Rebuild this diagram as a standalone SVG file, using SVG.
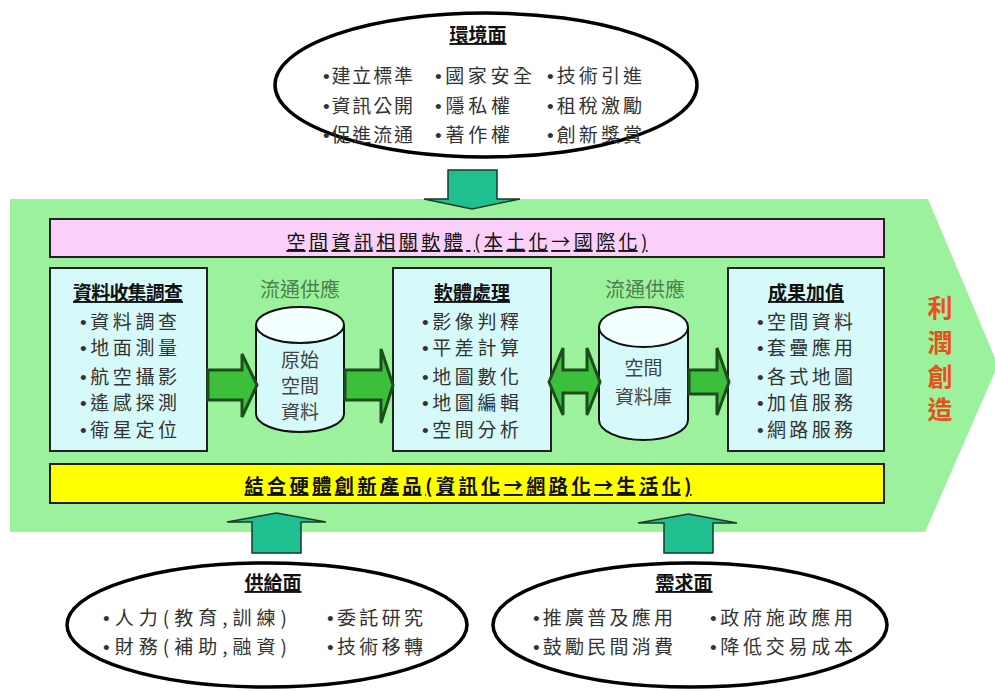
<svg xmlns="http://www.w3.org/2000/svg" width="995" height="691" viewBox="0 0 995 691">
<style>
text{font-family:"Noto Sans CJK TC","Noto Sans CJK SC",sans-serif;}
.b{font-family:"Liberation Sans",sans-serif;}
.it{font-size:19px;fill:#333;}
.tt{font-size:19px;font-weight:bold;fill:#111;text-decoration:underline;}
.lbl{font-size:20px;fill:#4f7f4f;text-anchor:middle;}
.cy{font-size:19px;fill:#444;text-anchor:middle;}
.box{fill:#d6fafa;stroke:#222;stroke-width:2;}
.ell{fill:#fff;stroke:#000;stroke-width:3.5;}
.garr{fill:#3cc03c;stroke:#1d4d1d;stroke-width:3;stroke-linejoin:miter;}
.tarr{fill:#1fbf8f;stroke:#1a3a2a;stroke-width:1.5;}
.red{font-size:25px;font-weight:bold;fill:#e8501e;text-anchor:middle;}
</style>
<rect width="995" height="691" fill="#fff"/>
<g id="main-arrow">
<polygon points="10,199 928,199 998,365 925,532 10,532" fill="#9cf29c"/>
<text class="red" x="940" y="317">利</text>
<text class="red" x="940" y="352">潤</text>
<text class="red" x="940" y="386">創</text>
<text class="red" x="940" y="419">造</text>
</g>
<g id="software-bar">
<rect x="50" y="219" width="834" height="38" fill="#fbd0f8" stroke="#222" stroke-width="2"/>
<text class="tt" x="467" y="249" text-anchor="middle" style="font-weight:normal" textLength="361" lengthAdjust="spacing">空間資訊相關軟體 (本土化→國際化)</text>
</g>
<g id="hardware-bar">
<rect x="50" y="464" width="834" height="39" fill="#ffff00" stroke="#222" stroke-width="2"/>
<text class="tt" x="468" y="493" text-anchor="middle" textLength="447" lengthAdjust="spacing">結合硬體創新產品(資訊化→網路化→生活化)</text>
</g>
<g id="box-collect">
<rect class="box" x="50" y="268" width="157" height="183"/>
<text class="tt" x="128" y="300" text-anchor="middle" textLength="110" lengthAdjust="spacing">資料收集調查</text>
<text class="it" x="80" y="329" textLength="97" lengthAdjust="spacing"><tspan class="b">•</tspan>資料調查</text>
<text class="it" x="80" y="355" textLength="97" lengthAdjust="spacing"><tspan class="b">•</tspan>地面測量</text>
<text class="it" x="80" y="384" textLength="97" lengthAdjust="spacing"><tspan class="b">•</tspan>航空攝影</text>
<text class="it" x="80" y="410" textLength="97" lengthAdjust="spacing"><tspan class="b">•</tspan>遙感探測</text>
<text class="it" x="80" y="437" textLength="97" lengthAdjust="spacing"><tspan class="b">•</tspan>衛星定位</text>
</g>
<g id="box-software">
<rect class="box" x="393" y="268" width="158" height="183"/>
<text class="tt" x="472" y="300" text-anchor="middle" textLength="76" lengthAdjust="spacing">軟體處理</text>
<text class="it" x="422" y="329" textLength="97" lengthAdjust="spacing"><tspan class="b">•</tspan>影像判釋</text>
<text class="it" x="422" y="355" textLength="97" lengthAdjust="spacing"><tspan class="b">•</tspan>平差計算</text>
<text class="it" x="422" y="384" textLength="97" lengthAdjust="spacing"><tspan class="b">•</tspan>地圖數化</text>
<text class="it" x="422" y="410" textLength="97" lengthAdjust="spacing"><tspan class="b">•</tspan>地圖編輯</text>
<text class="it" x="422" y="437" textLength="97" lengthAdjust="spacing"><tspan class="b">•</tspan>空間分析</text>
</g>
<g id="box-value">
<rect class="box" x="728" y="268" width="156" height="183"/>
<text class="tt" x="806" y="300" text-anchor="middle" textLength="76" lengthAdjust="spacing">成果加值</text>
<text class="it" x="757" y="329" textLength="96" lengthAdjust="spacing"><tspan class="b">•</tspan>空間資料</text>
<text class="it" x="757" y="355" textLength="96" lengthAdjust="spacing"><tspan class="b">•</tspan>套疊應用</text>
<text class="it" x="757" y="384" textLength="96" lengthAdjust="spacing"><tspan class="b">•</tspan>各式地圖</text>
<text class="it" x="757" y="410" textLength="96" lengthAdjust="spacing"><tspan class="b">•</tspan>加值服務</text>
<text class="it" x="757" y="437" textLength="96" lengthAdjust="spacing"><tspan class="b">•</tspan>網路服務</text>
</g>
<g id="cyl-raw">
<text class="lbl" x="300" y="297">流通供應</text>
<path d="M256,325 L256,414 A44,18 0 0 0 344,414 L344,325" fill="#d6fafa" stroke="#111" stroke-width="2"/>
<ellipse cx="300" cy="325" rx="44" ry="18" fill="#f4ffff" stroke="#111" stroke-width="2"/>
<text class="cy" x="300" y="367">原始</text>
<text class="cy" x="300" y="393">空間</text>
<text class="cy" x="300" y="419">資料</text>
</g>
<g id="cyl-db">
<text class="lbl" x="645" y="297">流通供應</text>
<path d="M599,327 L599,420 A44.5,20 0 0 0 688,420 L688,327" fill="#d6fafa" stroke="#111" stroke-width="2"/>
<ellipse cx="643.5" cy="327" rx="44.5" ry="20" fill="#f4ffff" stroke="#111" stroke-width="2"/>
<text class="cy" x="643.5" y="375">空間</text>
<text class="cy" x="643.5" y="404">資料庫</text>
</g>
<g id="env">
<ellipse class="ell" cx="486" cy="85" rx="211" ry="72"/>
<text class="tt" x="478" y="42" text-anchor="middle">環境面</text>
<text class="it" x="323" y="83" textLength="90" lengthAdjust="spacing"><tspan class="b">•</tspan>建立標準</text>
<text class="it" x="435" y="83" textLength="97" lengthAdjust="spacing"><tspan class="b">•</tspan>國家安全</text>
<text class="it" x="547" y="83" textLength="95" lengthAdjust="spacing"><tspan class="b">•</tspan>技術引進</text>
<text class="it" x="323" y="113" textLength="90" lengthAdjust="spacing"><tspan class="b">•</tspan>資訊公開</text>
<text class="it" x="435" y="113" textLength="75" lengthAdjust="spacing"><tspan class="b">•</tspan>隱私權</text>
<text class="it" x="547" y="113" textLength="95" lengthAdjust="spacing"><tspan class="b">•</tspan>租稅激勵</text>
<text class="it" x="323" y="142" textLength="90" lengthAdjust="spacing"><tspan class="b">•</tspan>促進流通</text>
<text class="it" x="435" y="142" textLength="75" lengthAdjust="spacing"><tspan class="b">•</tspan>著作權</text>
<text class="it" x="547" y="142" textLength="95" lengthAdjust="spacing"><tspan class="b">•</tspan>創新獎賞</text>
</g>
<g id="supply">
<ellipse class="ell" cx="267" cy="625" rx="200" ry="62"/>
<text class="tt" x="273" y="590" text-anchor="middle">供給面</text>
<text class="it" x="103" y="625" textLength="184" lengthAdjust="spacing"><tspan class="b">•</tspan>人力(教育,訓練)</text>
<text class="it" x="327" y="625" textLength="96" lengthAdjust="spacing"><tspan class="b">•</tspan>委託研究</text>
<text class="it" x="103" y="654" textLength="184" lengthAdjust="spacing"><tspan class="b">•</tspan>財務(補助,融資)</text>
<text class="it" x="327" y="654" textLength="96" lengthAdjust="spacing"><tspan class="b">•</tspan>技術移轉</text>
</g>
<g id="demand">
<ellipse class="ell" cx="690" cy="625" rx="197" ry="62"/>
<text class="tt" x="684" y="590" text-anchor="middle">需求面</text>
<text class="it" x="533" y="625" textLength="140" lengthAdjust="spacing"><tspan class="b">•</tspan>推廣普及應用</text>
<text class="it" x="710" y="625" textLength="143" lengthAdjust="spacing"><tspan class="b">•</tspan>政府施政應用</text>
<text class="it" x="533" y="654" textLength="140" lengthAdjust="spacing"><tspan class="b">•</tspan>鼓勵民間消費</text>
<text class="it" x="710" y="654" textLength="143" lengthAdjust="spacing"><tspan class="b">•</tspan>降低交易成本</text>
</g>
<g id="connectors">
<polygon class="tarr" points="448,170 497,170 497,199 520,199 472,209 424,199 448,199"/>
<polygon class="tarr" points="252,553 301,553 301,522 326,522 276.5,513 227,522 252,522"/>
<polygon class="tarr" points="664,553 713,553 713,523 737,523 688.5,514 638,523 664,523"/>
<polygon class="garr" points="208,370 242,370 242,354 257,385 242,417 242,400 208,400"/>
<polygon class="garr" points="345,370 381,370 381,349 393,385 381,423 381,400 345,400"/>
<polygon class="garr" points="549,382 563,348 563,370 587,370 587,348 600,382 587,415 587,393 563,393 563,415"/>
<polygon class="garr" points="689,370 717,370 717,348 729,382 717,415 717,394 689,394"/>
</g>
</svg>
